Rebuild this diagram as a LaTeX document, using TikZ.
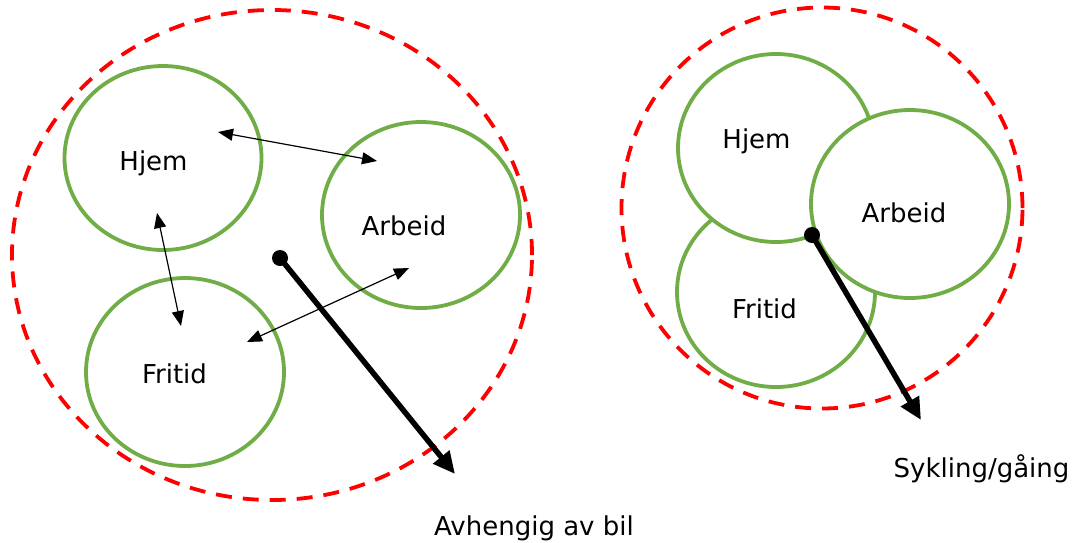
\documentclass[tikz,border=0pt]{standalone}
\usepackage{fontspec}
\setmainfont{DejaVu Sans}
\usetikzlibrary{shapes.geometric,arrows.meta}
\definecolor{zonegreen}{RGB}{112,173,71}
\definecolor{zonered}{RGB}{255,0,0}
\tikzset{
  zone/.style={ellipse,draw=zonegreen,line width=3.8pt,fill=white,inner sep=0pt},
  reach/.style={ellipse,draw=zonered,line width=3.8pt,dash pattern=on 16pt off 11pt,inner sep=0pt},
  lbl/.style={font=\fontsize{26}{30}\selectfont,inner sep=0pt,anchor=base},
  trip/.style={line width=1.2pt,{Triangle[length=15pt,width=12pt]}-{Triangle[length=15pt,width=12pt]}},
  travelarrow/.style={line width=5.5pt,-{Triangle[length=22pt,width=20pt]}},
  hub/.style={circle,fill=black,minimum size=16pt,inner sep=0pt}
}
\begin{document}
\begin{tikzpicture}[x=1pt,y=-1pt]
\useasboundingbox (0,0) rectangle (1075,542);

% car-dependent daily life: spread-out zones
\node[reach,minimum width=520pt,minimum height=490pt] (carzone) at (272,255) {};
\node[zone,minimum width=197pt,minimum height=184pt] (hjemA) at (163,158) {};
\node[zone,minimum width=198pt,minimum height=186pt] (arbeidA) at (421,215) {};
\node[zone,minimum width=198pt,minimum height=188pt] (fritidA) at (185,372) {};
\node[lbl] (hjemAt) at (153.5,170) {Hjem};
\node[lbl] (arbeidAt) at (404,235) {Arbeid};
\node[lbl] (fritidAt) at (174.5,383) {Fritid};

\coordinate (hA1) at (218,132);
\coordinate (aA1) at (377,161);
\coordinate (hA2) at (157,213);
\coordinate (fA2) at (181,326);
\coordinate (fA3) at (247,342);
\coordinate (aA3) at (409,268);
\draw[trip] (hA1) -- (aA1);
\draw[trip] (hA2) -- (fA2);
\draw[trip] (fA3) -- (aA3);

\node[hub] (carhub) at (280,258) {};
\coordinate (carend) at (455,474);
\draw[travelarrow] (carhub.center) -- (carend);
\node[lbl] (cartext) at (534,535) {Avhengig av bil};

% cycling/walking: compact overlapping zones
\node[reach,minimum width=401pt,minimum height=401pt] (bikezone) at (822,208) {};
\node[zone,minimum width=198pt,minimum height=190pt] (fritidB) at (776,292) {};
\node[zone,minimum width=196pt,minimum height=188pt] (hjemB) at (776,148) {};
\node[zone,minimum width=198pt,minimum height=188pt] (arbeidB) at (910,204) {};
\node[lbl] (hjemBt) at (756.5,148) {Hjem};
\node[lbl] (arbeidBt) at (904,222) {Arbeid};
\node[lbl] (fritidBt) at (764.5,318) {Fritid};

\node[hub] (bikehub) at (812,235) {};
\coordinate (bikeend) at (921,420);
\draw[travelarrow] (bikehub.center) -- (bikeend);
\node[lbl] (biketext) at (981.5,477) {Sykling/gåing};
\end{tikzpicture}
\end{document}
